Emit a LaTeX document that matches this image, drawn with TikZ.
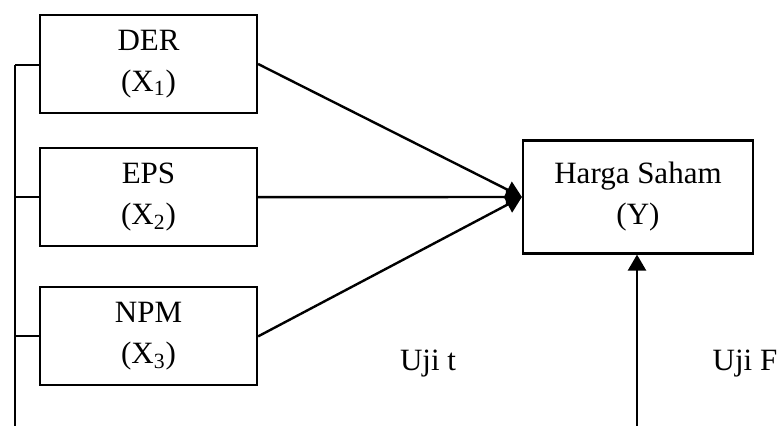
\documentclass[tikz,border=0pt]{standalone}
\usepackage{fontspec}
\setmainfont{Liberation Serif}
\usetikzlibrary{arrows.meta}
\usetikzlibrary{positioning}
\tikzstyle{var} = [draw, rectangle, line width=1.1pt, align=center, inner sep=0pt,
minimum width=108.5pt, minimum height=49pt]
\tikzstyle{line} = [draw, line width=1.2pt, -{Triangle[length=8pt,width=9pt]}]
\tikzstyle{link} = [draw, line width=1.1pt]

\begin{document}
\begin{tikzpicture}[x=0.5pt, y=-0.5pt,
	font=\fontsize{15.5}{20.5}\selectfont]
	\useasboundingbox (0,0) rectangle (782,426);
    \node [var, yshift=-1pt] (DER) at (148.5,62) {DER\\(X\textsubscript{1})};
    \node [var, below=16.5pt of DER] (EPS) {EPS\\(X\textsubscript{2})};
	\node [var, below=19.5pt of EPS] (NPM) {NPM\\(X\textsubscript{3})};
	\node [var, minimum width=115pt, minimum height=56.5pt] (Y) at (638,197) {Harga Saham\\(Y)};
    \coordinate (top) at (15,65);
    \coordinate (bot) at (15,426);
    \coordinate (fbot) at (637,426);
	%% Labels
    \node [anchor=base] (ujit) at (428,371) {Uji t};
    \node [anchor=base] (ujif) at (745,371) {Uji F};
	%% Arrows
    \path [line] (DER.east) to (Y.west);
	\path [line] (EPS.east) to (Y.west);
	\path [line] (NPM.east) to (Y.west);
	\path [line] (fbot) to (fbot |- Y.south);
	%% Left bracket
	\path [link] (top) to (bot);
    \path [link] (top) to (DER.west |- top);
    \path [link] (bot |- EPS.west) to (EPS.west);
    \path [link] (bot |- NPM.west) to (NPM.west);
\end{tikzpicture}
\end{document}
